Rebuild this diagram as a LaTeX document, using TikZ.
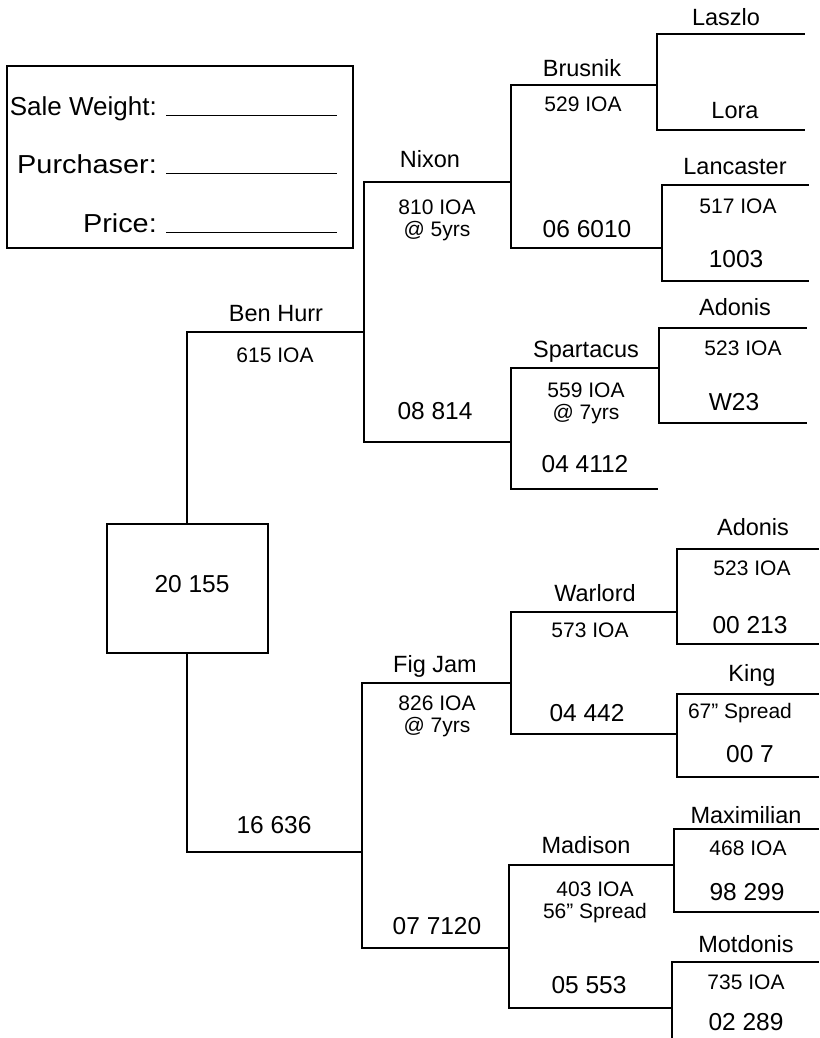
\documentclass[tikz,border=0pt]{standalone}
\usepackage{fontspec}
\setmainfont{Liberation Sans}
\begin{document}
\begin{tikzpicture}[x=1pt,y=-1pt,
  ln/.style={line width=1.1pt,line cap=rect},
  bx/.style={line width=1.8pt},
  nm/.style={anchor=base,inner sep=0pt,font=\fontsize{23.5}{26}\selectfont},
  num/.style={anchor=base,inner sep=0pt,font=\fontsize{24.5}{27}\selectfont},
  sm/.style={anchor=base,inner sep=0pt,font=\fontsize{21}{23}\selectfont},
  fm/.style={anchor=base east,inner sep=0pt,font=\fontsize{26}{29}\selectfont}]
\useasboundingbox (0,0) rectangle (819,1038);

% ---- info box ----
\draw[bx] (7,66) rectangle (353,248);
\node[fm] (sw) at (157,116) {Sale Weight:};
\node[fm] (pu) at (157,173) {\scalebox{1.11}[1]{Purchaser:}};
\node[fm] (pr) at (157,232) {\scalebox{1.11}[1]{Price:}};
\draw[line width=1pt] (166,116) -- (337,116);
\draw[line width=1pt] (166,173) -- (337,173);
\draw[line width=1pt] (166,232) -- (337,232);

% ---- junction coordinates ----
\coordinate (rA) at (187,332);
\coordinate (rB) at (187,852);
\coordinate (bh) at (364,332);
\coordinate (nxA) at (364,182);
\coordinate (nxB) at (364,442);
\coordinate (nx) at (511,182);
\coordinate (n8) at (511,442);
\coordinate (brA) at (511,85);
\coordinate (brB) at (511,248);
\coordinate (br) at (657,85);
\coordinate (b6) at (662,248);
\coordinate (laA) at (657,34);
\coordinate (laB) at (657,130);
\coordinate (laE) at (804,34);
\coordinate (loE) at (804,130);
\coordinate (lcA) at (662,185);
\coordinate (lcB) at (662,281);
\coordinate (lcE) at (808,185);
\coordinate (l1E) at (808,281);
\coordinate (spA) at (511,368);
\coordinate (spB) at (511,489);
\coordinate (sp) at (659,368);
\coordinate (s4) at (657,489);
\coordinate (adA) at (659,328);
\coordinate (adB) at (659,423);
\coordinate (adE) at (806,328);
\coordinate (wE) at (806,423);
\coordinate (fj16) at (362,852);
\coordinate (fjA) at (362,683);
\coordinate (fjB) at (362,948);
\coordinate (fj) at (511,683);
\coordinate (f7) at (509,948);
\coordinate (waA) at (511,612);
\coordinate (waB) at (511,734);
\coordinate (wa) at (677,612);
\coordinate (w4) at (677,734);
\coordinate (a2A) at (677,549);
\coordinate (a2B) at (677,644);
\coordinate (a2E) at (818,549);
\coordinate (a2F) at (818,644);
\coordinate (kgA) at (677,694);
\coordinate (kgB) at (677,777);
\coordinate (kgE) at (818,694);
\coordinate (kgF) at (818,777);
\coordinate (maA) at (509,865);
\coordinate (maB) at (509,1008);
\coordinate (ma) at (674,865);
\coordinate (m5) at (672,1008);
\coordinate (mxA) at (674,829);
\coordinate (mxB) at (674,912);
\coordinate (mxE) at (818,829);
\coordinate (mxF) at (818,912);
\coordinate (mtA) at (672,962);
\coordinate (mtB) at (672,1038);
\coordinate (mtE) at (818,962);

% ---- root box ----
\node[bx,draw,minimum width=161pt,minimum height=129pt,inner sep=0pt] (root) at (187.5,588.5) {};
\node[num] (r20) at (192,592) {20 155};

% ---- connectors ----
\draw[ln] (root.north -| rA) -- (rA) -- (bh);
\draw[ln] (root.south -| rB) -- (rB) -- (fj16);
\draw[ln] (nxA) -- (nxB);
\draw[ln] (nxA) -- (nx);
\draw[ln] (nxB) -- (n8);
\draw[ln] (brA) -- (brB);
\draw[ln] (brA) -- (br);
\draw[ln] (brB) -- (b6);
\draw[ln] (laE) -- (laA) -- (laB) -- (loE);
\draw[ln] (lcE) -- (lcA) -- (lcB) -- (l1E);
\draw[ln] (spA) -- (spB);
\draw[ln] (spA) -- (sp);
\draw[ln] (spB) -- (s4);
\draw[ln] (adE) -- (adA) -- (adB) -- (wE);
\draw[ln] (fjA) -- (fjB);
\draw[ln] (fjA) -- (fj);
\draw[ln] (fjB) -- (f7);
\draw[ln] (waA) -- (waB);
\draw[ln] (waA) -- (wa);
\draw[ln] (waB) -- (w4);
\draw[ln] (a2E) -- (a2A) -- (a2B) -- (a2F);
\draw[ln] (kgE) -- (kgA) -- (kgB) -- (kgF);
\draw[ln] (maA) -- (maB);
\draw[ln] (maA) -- (ma);
\draw[ln] (maB) -- (m5);
\draw[ln] (mxE) -- (mxA) -- (mxB) -- (mxF);
\draw[ln] (mtE) -- (mtA) -- (mtB);

% ---- labels ----
\node[nm] (tLaszlo) at (726,26) {Laszlo};
\node[nm] (tBrusnik) at (582,77) {Brusnik};
\node[sm] (t529) at (583,112) {529 IOA};
\node[nm] (tLora) at (735,119) {Lora};
\node[nm] (tLancaster) at (735,174) {Lancaster};
\node[sm] (t517) at (738,213) {517 IOA};
\node[num] (t066010) at (587,237) {06 6010};
\node[num] (t1003) at (736,267) {1003};
\node[nm] (tNixon) at (430,167) {Nixon};
\node[sm] (t810) at (437,214) {810 IOA};
\node[sm] (t5yrs) at (437,236) {@ 5yrs};
\node[nm] (tBenHurr) at (276,321) {Ben Hurr};
\node[sm] (t615) at (275,362) {615 IOA};
\node[num] (t08814) at (435,419) {08 814};
\node[nm] (tAdonis1) at (735,315) {Adonis};
\node[sm] (t523a) at (743,355) {523 IOA};
\node[nm] (tSpartacus) at (586,357) {Spartacus};
\node[sm] (t559) at (586,397) {559 IOA};
\node[sm] (t7yrsA) at (586,419) {@ 7yrs};
\node[num] (tW23) at (734,410) {W23};
\node[num] (t044112) at (585,472) {04 4112};

\node[nm] (tAdonis2) at (753,535) {Adonis};
\node[sm] (t523b) at (752,575) {523 IOA};
\node[nm] (tWarlord) at (595,601) {Warlord};
\node[sm] (t573) at (590,637) {573 IOA};
\node[num] (t00213) at (750,633) {00 213};
\node[nm] (tFigJam) at (435,672) {Fig Jam};
\node[sm] (t826) at (437,710) {826 IOA};
\node[sm] (t7yrsB) at (437,732) {@ 7yrs};
\node[nm] (tKing) at (752,681) {King};
\node[num] (t04442) at (587,721) {04 442};
\node[sm] (t67) at (740,718) {67” Spread};
\node[num] (t007) at (750,762) {00 7};
\node[num] (t16636) at (274,833) {16 636};
\node[nm] (tMaximilian) at (746,823) {Maximilian};
\node[nm] (tMadison) at (586,853) {Madison};
\node[sm] (t468) at (748,855) {468 IOA};
\node[num] (t98299) at (747,900) {98 299};
\node[sm] (t403) at (595,896) {403 IOA};
\node[sm] (t56) at (595,918) {56” Spread};
\node[num] (t077120) at (437,934) {07 7120};
\node[nm] (tMotdonis) at (746,952) {Motdonis};
\node[sm] (t735) at (746,989) {735 IOA};
\node[num] (t05553) at (589,993) {05 553};
\node[num] (t02289) at (746,1030) {02 289};
\end{tikzpicture}
\end{document}
